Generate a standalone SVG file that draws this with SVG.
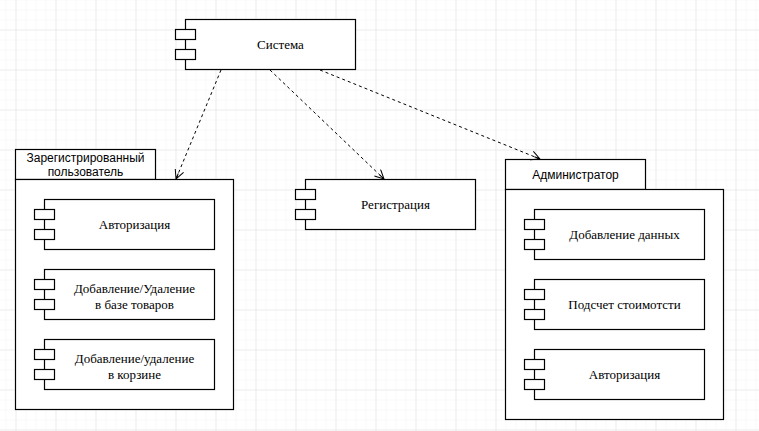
<svg xmlns="http://www.w3.org/2000/svg" width="759" height="431" viewBox="0 0 759 431">
  <defs>
    <pattern id="minor" x="5.5" y="9.5" width="10" height="10" patternUnits="userSpaceOnUse">
      <path d="M0 0H10M0 0V10" fill="none" stroke="#f3f3f3" stroke-width="1"/>
    </pattern>
    <pattern id="major" x="15.5" y="29.5" width="40" height="40" patternUnits="userSpaceOnUse">
      <path d="M0 0H40M0 0V40" fill="none" stroke="#e2e2e2" stroke-width="1"/>
    </pattern>
    <marker id="open" markerWidth="12" markerHeight="12" refX="10" refY="5" orient="auto" markerUnits="userSpaceOnUse">
      <path d="M1 0.5 L10 5 L1 9.5 M10 5 L4 5" fill="none" stroke="#000" stroke-width="1"/>
    </marker>
    <!-- component glyph: body with two port tabs on the left -->
    <g id="comp">
      <rect x="10" y="0" width="170" height="50" class="box"/>
      <rect x="0" y="10" width="20" height="10" class="box"/>
      <rect x="0" y="30" width="20" height="10" class="box"/>
    </g>
  </defs>
  <style>
    .box { fill: #fff; stroke: #000; stroke-width: 1.2; }
    .frame { fill: #fff; stroke: #000; stroke-width: 1.2; }
    .serif { font-family: "Liberation Serif", "Times New Roman", serif; font-size: 13px; fill: #000; text-anchor: middle; }
    .sans { font-family: "Liberation Sans", Arial, sans-serif; font-size: 12px; fill: #000; text-anchor: middle; }
    .dep { fill: none; stroke: #000; stroke-width: 1; stroke-dasharray: 3 3; marker-end: url(#open); }
  </style>

  <rect width="759" height="431" fill="#fff"/>
  <rect width="759" height="431" fill="url(#minor)"/>
  <rect width="759" height="431" fill="url(#major)"/>

  <!-- Система -->
  <g id="sistema">
    <use href="#comp" x="175.5" y="19.5"/>
    <text class="serif" x="280.5" y="49">Система</text>
  </g>

  <!-- Зарегистрированный пользователь (package) -->
  <g id="user">
    <rect class="frame" x="15.5" y="149.5" width="140" height="30"/>
    <rect class="frame" x="15.5" y="179.5" width="218" height="230"/>
    <text class="sans" x="85.5" y="162">Зарегистрированный</text>
    <text class="sans" x="85.5" y="176">пользователь</text>
  </g>
  <g id="user-auth">
    <use href="#comp" x="34.5" y="199.5"/>
    <text class="serif" x="134.5" y="229">Авторизация</text>
  </g>
  <g id="user-goods">
    <use href="#comp" x="34.5" y="269.5"/>
    <text class="serif" x="134.5" y="293">Добавление/Удаление</text>
    <text class="serif" x="134.5" y="308.5">в базе товаров</text>
  </g>
  <g id="user-cart">
    <use href="#comp" x="34.5" y="339.5"/>
    <text class="serif" x="134.5" y="363">Добавление/удаление</text>
    <text class="serif" x="134.5" y="378.5">в корзине</text>
  </g>

  <!-- Регистрация -->
  <g id="registration">
    <use href="#comp" x="295.5" y="179.5"/>
    <text class="serif" x="395.5" y="209">Регистрация</text>
  </g>

  <!-- Администратор (package) -->
  <g id="admin">
    <rect class="frame" x="505.5" y="159.5" width="140" height="30"/>
    <rect class="frame" x="505.5" y="189.5" width="218" height="230"/>
    <text class="sans" x="575.5" y="179">Администратор</text>
  </g>
  <g id="admin-data">
    <use href="#comp" x="524.5" y="209.5"/>
    <text class="serif" x="624.5" y="239">Добавление данных</text>
  </g>
  <g id="admin-cost">
    <use href="#comp" x="524.5" y="279.5"/>
    <text class="serif" x="624.5" y="309">Подсчет стоимотсти</text>
  </g>
  <g id="admin-auth">
    <use href="#comp" x="524.5" y="349.5"/>
    <text class="serif" x="624.5" y="379">Авторизация</text>
  </g>

  <!-- dependencies -->
  <g id="connectors">
    <path class="dep" d="M221 70 L176 179"/>
    <path class="dep" d="M270 70 L384 179"/>
    <path class="dep" d="M320 70 L540 159"/>
  </g>
</svg>
